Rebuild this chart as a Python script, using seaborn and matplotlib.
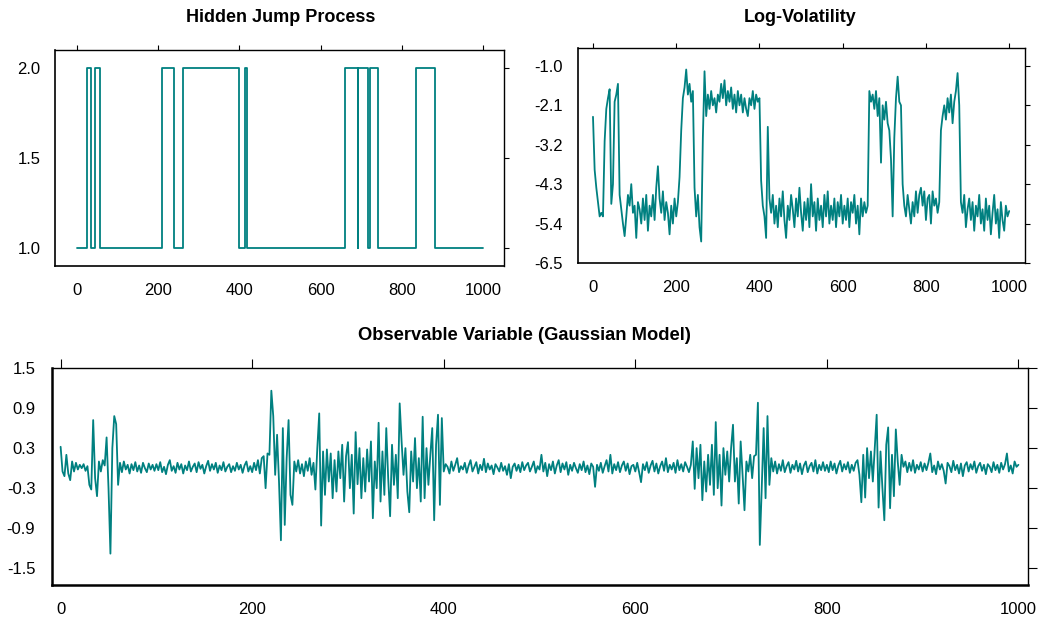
import numpy as np
import pandas as pd
import matplotlib
matplotlib.use("Agg")
import matplotlib.pyplot as plt
import seaborn as sns

# Hidden regime: switch times and the state held from each switch onward
jump_t = [0, 25, 35, 45, 57, 211, 239, 261, 400, 414, 418, 661, 691, 693, 717, 722, 742, 834, 881, 1000]
jump_state = [1, 2, 1, 2, 1, 2, 1, 2, 1, 2, 1, 2, 1, 2, 1, 2, 1, 2, 1, 1]

# Log-volatility, read every 4 steps (t = 0, 4, ..., 1000)
log_vol = [
    -2.42, -3.90, -4.40, -4.80, -5.20, -5.10, -5.20, -3.10, -2.20, -1.90,
    -1.65, -4.85, -4.30, -2.00, -1.80, -1.50, -4.60, -5.00, -5.40, -5.75,
    -5.20, -4.60, -4.90, -4.30, -5.10, -4.90, -5.80, -4.80, -5.00, -5.40,
    -4.70, -5.30, -4.60, -5.60, -4.90, -5.20, -4.60, -5.30, -4.40, -3.80,
    -4.70, -5.10, -4.50, -5.30, -4.80, -5.10, -5.70, -4.90, -5.40, -4.70,
    -5.20, -4.80, -4.10, -2.80, -1.90, -1.60, -1.10, -1.80, -1.50, -2.00,
    -1.70, -4.40, -5.20, -4.60, -5.50, -5.90, -3.00, -1.15, -2.40, -1.80,
    -2.20, -1.70, -2.10, -1.90, -2.30, -1.80, -2.00, -1.50, -1.90, -1.40,
    -2.10, -1.70, -2.00, -1.60, -2.20, -1.80, -2.30, -1.70, -2.10, -1.80,
    -2.30, -1.90, -2.20, -2.40, -1.90, -2.10, -1.70, -2.20, -1.80, -2.00,
    -1.90, -4.20, -4.90, -5.20, -5.80, -2.70, -4.70, -5.10, -4.60, -5.40,
    -4.90, -5.50, -4.70, -5.20, -4.50, -5.30, -5.80, -4.90, -5.30, -4.60,
    -5.00, -5.50, -4.70, -5.20, -4.40, -5.10, -5.60, -4.80, -5.30, -4.70,
    -5.50, -4.30, -5.20, -4.80, -5.60, -4.70, -5.30, -4.90, -5.50, -4.60,
    -5.20, -4.50, -5.40, -4.90, -5.30, -4.70, -5.50, -4.80, -5.20, -4.60,
    -5.40, -4.90, -5.30, -4.70, -5.50, -4.80, -5.10, -4.60, -5.40, -4.90,
    -5.70, -4.70, -5.20, -4.80, -5.10, -4.90, -1.70, -2.00, -1.80, -2.20,
    -1.70, -2.40, -1.90, -3.70, -2.10, -2.50, -2.00, -2.60, -2.80, -3.60,
    -5.20, -3.00, -1.90, -1.30, -2.00, -2.10, -4.30, -4.90, -5.20, -4.60,
    -5.00, -5.40, -4.80, -5.20, -4.50, -5.10, -4.60, -4.40, -4.90, -4.50,
    -5.30, -4.70, -4.60, -5.40, -4.50, -4.90, -4.70, -5.10, -4.80, -2.80,
    -2.40, -2.10, -2.50, -1.90, -2.30, -1.80, -2.60, -2.00, -1.70, -1.20,
    -2.10, -4.80, -5.10, -4.60, -5.50, -5.00, -4.70, -5.30, -4.80, -5.60,
    -4.90, -5.20, -4.60, -5.40, -5.00, -5.60, -4.70, -5.30, -4.90, -5.70,
    -5.10, -4.60, -5.40, -5.00, -5.80, -4.80, -5.30, -5.60, -4.90, -5.20,
    -5.05,
]

# Observable variable, read every 2 steps (t = 0, 2, ..., 1000)
obs = [
    0.32, -0.05, -0.12, 0.20, -0.08, -0.18, 0.10, -0.05, 0.08, -0.02,
    0.05, 0.00, 0.06, -0.04, 0.03, -0.25, -0.32, 0.72, -0.15, -0.42,
    0.10, -0.05, 0.12, 0.04, 0.46, -0.30, -1.28, 0.30, 0.78, 0.66,
    -0.25, 0.08, -0.06, 0.10, -0.02, 0.05, -0.08, 0.06, -0.03, 0.09,
    -0.05, 0.04, -0.07, 0.08, 0.00, -0.06, 0.07, -0.02, 0.05, -0.04,
    0.06, -0.03, 0.09, -0.06, 0.02, -0.09, 0.05, 0.12, -0.04, 0.03,
    -0.07, 0.08, -0.02, 0.06, -0.08, 0.04, -0.03, 0.10, -0.05, 0.02,
    0.07, -0.06, 0.09, -0.01, 0.05, -0.08, 0.03, 0.11, -0.04, 0.06,
    -0.02, 0.08, -0.07, 0.04, -0.03, 0.09, -0.05, 0.02, 0.06, -0.06,
    0.03, -0.04, 0.08, -0.02, 0.05, -0.07, 0.04, 0.10, -0.05, 0.03,
    -0.06, 0.08, -0.03, 0.12, -0.08, 0.15, 0.18, -0.30, 0.22, 0.20,
    1.16, 0.78, -0.10, 0.50, -0.20, -1.08, 0.60, -0.85, 0.15, 0.72,
    -0.40, -0.55, 0.10, -0.05, 0.12, -0.08, 0.06, -0.12, 0.10, -0.04,
    0.15, -0.10, 0.08, -0.32, 0.30, 0.82, -0.86, 0.25, -0.40, 0.28,
    -0.20, 0.22, -0.45, 0.12, -0.35, 0.25, -0.15, 0.35, -0.50, 0.18,
    0.39, -0.30, 0.20, -0.68, 0.54, -0.24, 0.30, -0.45, 0.15, -0.35,
    0.28, -0.20, 0.40, -0.75, 0.10, -0.30, 0.68, -0.50, 0.25, -0.40,
    0.60, -0.15, -0.72, 0.35, -0.25, 0.20, -0.45, 0.97, 0.40, -0.10,
    0.30, -0.35, -0.66, 0.25, -0.20, 0.45, -0.30, 0.15, -0.50, 0.77,
    -0.45, 0.30, -0.25, 0.20, 0.60, -0.78, 0.35, 0.80, -0.55, 0.75,
    -0.05, 0.06, 0.02, -0.08, 0.10, -0.04, 0.05, 0.15, -0.06, 0.03,
    -0.02, 0.08, -0.07, 0.04, 0.12, -0.05, 0.02, 0.09, -0.08, 0.05,
    -0.03, 0.14, -0.06, 0.07, -0.02, 0.04, -0.09, 0.06, 0.01, -0.05,
    0.08, -0.04, 0.03, -0.10, 0.06, -0.15, 0.02, 0.07, -0.04, 0.05,
    -0.06, 0.09, -0.03, 0.04, 0.08, -0.05, 0.02, 0.10, -0.07, 0.03,
    -0.02, 0.20, -0.05, 0.08, -0.12, 0.06, -0.03, 0.10, -0.08, 0.04,
    0.12, -0.06, 0.07, -0.02, 0.09, -0.10, 0.05, -0.04, 0.08, 0.00,
    -0.07, 0.06, -0.03, 0.10, -0.06, 0.04, -0.09, 0.07, 0.02, -0.28,
    0.05, -0.04, 0.08, -0.07, 0.03, 0.12, -0.05, 0.20, -0.08, 0.06,
    -0.03, 0.09, -0.06, 0.04, 0.10, -0.04, 0.07, -0.09, 0.03, 0.05,
    -0.05, 0.08, -0.06, -0.21, 0.06, -0.03, 0.09, -0.07, 0.04, 0.11,
    -0.05, 0.07, -0.08, 0.03, 0.10, -0.04, 0.15, -0.06, 0.05, -0.02,
    0.08, -0.07, 0.12, -0.03, 0.06, -0.05, 0.09, 0.02, -0.06, 0.05,
    0.40, -0.31, 0.30, -0.15, 0.35, -0.48, 0.10, -0.35, 0.20, -0.25,
    0.35, -0.40, 0.69, -0.30, 0.20, -0.56, 0.30, -0.10, 0.25, -0.20,
    0.30, 0.65, -0.20, 0.15, -0.53, 0.40, -0.10, -0.63, 0.10, -0.05,
    0.20, -0.15, 0.18, 0.20, 0.98, -1.15, -0.30, 0.60, -0.45, 0.78,
    -0.25, 0.15, -0.05, 0.10, -0.08, 0.06, -0.04, 0.12, -0.06, 0.03,
    0.09, -0.07, 0.05, -0.02, 0.11, -0.05, 0.07, -0.09, 0.04, 0.10,
    -0.06, 0.03, 0.08, -0.05, 0.12, -0.08, 0.05, -0.03, 0.09, -0.04,
    0.05, -0.06, 0.10, -0.03, 0.07, -0.08, 0.04, 0.11, -0.05, 0.06,
    -0.02, 0.09, -0.07, 0.05, -0.04, 0.08, 0.12, -0.10, -0.51, 0.20,
    -0.44, 0.30, -0.15, 0.25, -0.20, 0.30, 0.80, -0.59, 0.25, -0.30,
    -0.78, 0.35, 0.61, -0.60, 0.20, -0.42, 0.58, 0.10, -0.25, 0.20,
    0.02, 0.10, -0.06, 0.08, -0.04, 0.12, -0.07, 0.05, -0.02, 0.09,
    -0.05, 0.07, -0.03, 0.08, 0.22, -0.06, 0.04, -0.09, 0.10, -0.02,
    0.06, -0.04, -0.23, 0.08, 0.03, -0.06, 0.11, -0.03, 0.05, -0.08,
    0.07, -0.12, 0.04, 0.09, -0.05, 0.06, -0.02, 0.10, -0.07, 0.03,
    0.08, -0.04, 0.05, -0.09, 0.06, 0.02, -0.06, 0.09, -0.03, 0.05,
    -0.07, 0.08, -0.02, 0.06, 0.22, -0.05, 0.04, -0.08, 0.10, 0.02,
    0.05,
]

xticks = [0, 200, 400, 600, 800, 1000]
jump_yticks = [1.0, 1.5, 2.0]
vol_yticks = [-6.5, -5.4, -4.3, -3.2, -2.1, -1.0]
obs_yticks = [-1.5, -0.9, -0.3, 0.3, 0.9, 1.5]

vol_df = pd.DataFrame({"t": np.arange(len(log_vol)) * 4, "h": log_vol})
obs_df = pd.DataFrame({"t": np.arange(len(obs)) * 2, "y": obs})
jump_df = pd.DataFrame({"t": jump_t, "s": jump_state})

sns.set_theme(style="white")
plt.rcParams["font.family"] = ["Liberation Sans", "DejaVu Sans"]
plt.rcParams["axes.unicode_minus"] = False
plt.rcParams["text.color"] = "black"

teal = "#008080"
W, H = 1040, 619
fig = plt.figure(figsize=(W / 100, H / 100), dpi=100)


def box(l, t, r, b):
    return [l / W, 1 - b / H, (r - l) / W, (b - t) / H]


ax1 = fig.add_axes(box(55, 50, 504, 266))
ax2 = fig.add_axes(box(578, 48, 1025, 263))
ax3 = fig.add_axes(box(52, 368, 1028, 585))

sns.lineplot(data=jump_df, x="t", y="s", ax=ax1, color=teal, lw=1.3,
             drawstyle="steps-post", estimator=None)
sns.lineplot(data=vol_df, x="t", y="h", ax=ax2, color=teal, lw=1.3, estimator=None)
sns.lineplot(data=obs_df, x="t", y="y", ax=ax3, color=teal, lw=1.3, estimator=None)

ax1.set_xlim(-53, 1051)
ax1.set_ylim(0.898, 2.098)
ax1.set_yticks(jump_yticks)
ax2.set_xlim(-36, 1038)
ax2.set_ylim(-6.5, -0.5)
ax2.set_yticks(vol_yticks)
ax3.set_xlim(-9, 1010)
ax3.set_ylim(-1.75, 1.5)
ax3.set_yticks(obs_yticks)


def style(ax, tlen, lw_lb, xpad, ypad):
    ax.set_xticks(xticks)
    ax.yaxis.set_major_formatter(matplotlib.ticker.FormatStrFormatter("%.1f"))
    ax.set_xlabel("")
    ax.set_ylabel("")
    for side in ["left", "bottom"]:
        ax.spines[side].set_linewidth(lw_lb)
        ax.spines[side].set_color("black")
    for side in ["top", "right"]:
        ax.spines[side].set_linewidth(1.0)
        ax.spines[side].set_color("black")
    ax.tick_params(direction="out", length=tlen, width=0.8, color="black",
                   labelsize=12, labelcolor="black",
                   bottom=False, left=False, top=True, right=True,
                   labelbottom=True, labelleft=True)
    ax.tick_params(axis="x", pad=xpad)
    ax.tick_params(axis="y", pad=ypad)


style(ax1, 3.5, 1.2, 9.0, 7.0)
style(ax2, 3.5, 1.2, 9.0, 7.5)
style(ax3, 6.5, 1.8, 6.0, 5.5)

fig.text(281 / W, 1 - 18 / H, "Hidden Jump Process", ha="center", va="center",
         fontsize=13, fontweight="bold", color="black")
fig.text(800 / W, 1 - 18 / H, "Log-Volatility", ha="center", va="center",
         fontsize=13, fontweight="bold", color="black")
fig.text(524 / W, 1 - 335 / H, "Observable Variable (Gaussian Model)", ha="center",
         va="center", fontsize=13.2, fontweight="bold", color="black")

fig.savefig("out.png", dpi=100)
